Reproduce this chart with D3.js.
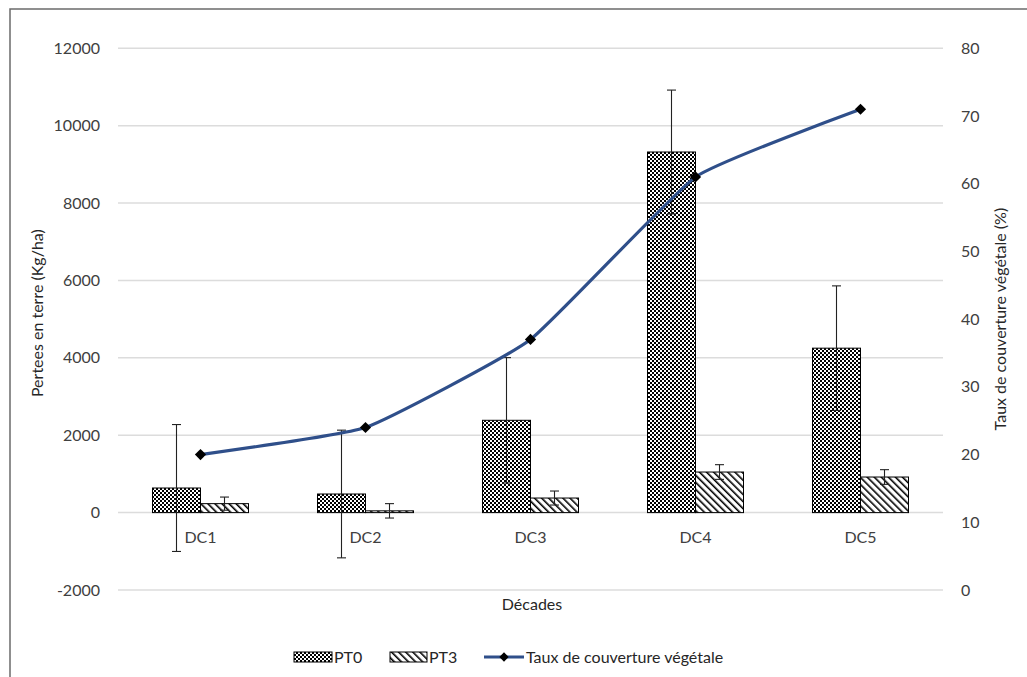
<!DOCTYPE html>
<html>
<head>
<meta charset="utf-8">
<script src="https://cdn.jsdelivr.net/npm/d3@7"></script>
<style>
  html, body { margin: 0; padding: 0; background: #fff; }
  svg { display: block; }
  text { font-family: Lato, "Open Sans", sans-serif; }
</style>
</head>
<body>
<script>
// Soil losses per decade (PT0, PT3) with standard errors, and vegetation cover rate
const categories = ["DC1", "DC2", "DC3", "DC4", "DC5"];
const pt0 = [636, 481, 2386, 9320, 4250];
const pt0Err = [1640, 1650, 1620, 1600, 1610];
const pt3 = [232, 46, 377, 1049, 920];
const pt3Err = [170, 186, 181, 190, 190];
const cover = [20, 24, 37, 61, 71];
const leftTicks = [-2000, 0, 2000, 4000, 6000, 8000, 10000, 12000];
const rightTicks = [0, 10, 20, 30, 40, 50, 60, 70, 80];
const seriesNames = ["PT0", "PT3", "Taux de couverture végétale"];

const W = 1027, H = 677;
const plot = { left: 118, right: 943, top: 48.3, bottom: 590 };

const svg = d3.select("body").append("svg").attr("width", W).attr("height", H);
const defs = svg.append("defs");

// checker fill for PT0
const pChk = defs.append("pattern").attr("id", "chk")
  .attr("patternUnits", "userSpaceOnUse").attr("width", 4).attr("height", 4);
pChk.append("rect").attr("width", 4).attr("height", 4).attr("fill", "#fff");
pChk.append("rect").attr("width", 2).attr("height", 2).attr("fill", "#000");
pChk.append("rect").attr("x", 2).attr("y", 2).attr("width", 2).attr("height", 2).attr("fill", "#000");

// diagonal hatch for PT3 (falling from top-left to bottom-right)
const pHatch = defs.append("pattern").attr("id", "hatch")
  .attr("patternUnits", "userSpaceOnUse").attr("width", 5).attr("height", 5)
  .attr("patternTransform", "rotate(-45)");
pHatch.append("rect").attr("width", 5).attr("height", 5).attr("fill", "#fff");
pHatch.append("line").attr("x1", 0).attr("y1", 0).attr("x2", 0).attr("y2", 5)
  .attr("stroke", "#000").attr("stroke-width", 3.2);

// frame
svg.append("rect").attr("x", 10).attr("y", 9).attr("width", W + 20).attr("height", H + 20)
  .attr("fill", "none").attr("stroke", "#6b6b6b").attr("stroke-width", 1.5);

const y = d3.scaleLinear().domain([-2000, 12000]).range([plot.bottom, plot.top]);
const y2 = d3.scaleLinear().domain([0, 80]).range([plot.bottom, plot.top]);
const x = d3.scaleBand().domain(categories).range([plot.left, plot.right])
  .paddingInner(69 / 165).paddingOuter(69 / 330);
const xs = d3.scaleBand().domain(["PT0", "PT3"]).range([0, x.bandwidth()]);

// gridlines
svg.append("g").selectAll("line").data(leftTicks).join("line")
  .attr("x1", plot.left).attr("x2", plot.right)
  .attr("y1", d => y(d)).attr("y2", d => y(d))
  .attr("stroke", "#dcdcdc").attr("stroke-width", 1.5);

// left axis
const gL = svg.append("g").attr("transform", `translate(${plot.left - 18},0)`)
  .call(d3.axisLeft(y).tickValues(leftTicks).tickSize(0).tickPadding(0).tickFormat(d => String(d)));
gL.select(".domain").remove();
gL.selectAll("text").attr("font-size", 16).attr("fill", "#404040").attr("font-family", "Lato, sans-serif");

// right axis
const gR = svg.append("g").attr("transform", `translate(${plot.right + 18},0)`)
  .call(d3.axisRight(y2).tickValues(rightTicks).tickSize(0).tickPadding(0));
gR.select(".domain").remove();
gR.selectAll("text").attr("font-size", 16).attr("fill", "#404040").attr("font-family", "Lato, sans-serif");

// bars
const bars = [
  { key: "PT0", vals: pt0, err: pt0Err, fill: "url(#chk)" },
  { key: "PT3", vals: pt3, err: pt3Err, fill: "url(#hatch)" }
];
bars.forEach(s => {
  const g = svg.append("g");
  g.selectAll("rect").data(categories).join("rect")
    .attr("x", c => x(c) + xs(s.key))
    .attr("width", xs.bandwidth())
    .attr("y", (c, i) => y(Math.max(0, s.vals[i])))
    .attr("height", (c, i) => Math.abs(y(s.vals[i]) - y(0)))
    .attr("fill", s.fill).attr("stroke", "#000").attr("stroke-width", 1);
});

// category labels
svg.append("g").selectAll("text").data(categories).join("text")
  .attr("x", c => x(c) + x.bandwidth() / 2).attr("y", y(0) + 30)
  .attr("text-anchor", "middle").attr("font-size", 16).attr("fill", "#404040")
  .text(c => c);

// error bars
bars.forEach(s => {
  const g = svg.append("g").attr("stroke", "#222").attr("stroke-width", 1.1);
  categories.forEach((c, i) => {
    const cx = x(c) + xs(s.key) + xs.bandwidth() / 2;
    const hi = y(s.vals[i] + s.err[i]), lo = y(s.vals[i] - s.err[i]);
    g.append("line").attr("x1", cx).attr("x2", cx).attr("y1", hi).attr("y2", lo);
    g.append("line").attr("x1", cx - 4.5).attr("x2", cx + 4.5).attr("y1", hi).attr("y2", hi);
    g.append("line").attr("x1", cx - 4.5).attr("x2", cx + 4.5).attr("y1", lo).attr("y2", lo);
  });
});

// vegetation cover line
const pts = categories.map((c, i) => [x(c) + x.bandwidth() / 2, y2(cover[i])]);
svg.append("path").attr("d", d3.line().curve(d3.curveCardinal.tension(0.6))(pts))
  .attr("fill", "none").attr("stroke", "#2f4f8a").attr("stroke-width", 3.2);
const diamond = d3.symbol().type(d3.symbolDiamond2);
svg.append("g").selectAll("path").data(pts).join("path")
  .attr("transform", d => `translate(${d[0]},${d[1]})`)
  .attr("d", diamond.size(80)()).attr("fill", "#000");

// axis titles
svg.append("text").attr("transform", `translate(43,${(plot.top + plot.bottom) / 2 - 6}) rotate(-90)`)
  .attr("text-anchor", "middle").attr("font-size", 16).attr("fill", "#262626")
  .text("Pertees en terre (Kg/ha)");
svg.append("text").attr("transform", `translate(1006,${(plot.top + plot.bottom) / 2}) rotate(-90)`)
  .attr("text-anchor", "middle").attr("font-size", 16).attr("fill", "#262626")
  .text("Taux de couverture végétale (%)");
svg.append("text").attr("x", 532).attr("y", 610)
  .attr("text-anchor", "middle").attr("font-size", 16).attr("fill", "#262626")
  .text("Décades");

// legend
const lg = svg.append("g");
const ly = 657;
lg.append("rect").attr("x", 294).attr("y", ly - 5).attr("width", 38).attr("height", 10)
  .attr("fill", "url(#chk)").attr("stroke", "#000");
lg.append("text").attr("x", 334).attr("y", ly + 6).attr("font-size", 16).attr("fill", "#262626").text(seriesNames[0]);
lg.append("rect").attr("x", 390).attr("y", ly - 5).attr("width", 37).attr("height", 10)
  .attr("fill", "url(#hatch)").attr("stroke", "#000");
lg.append("text").attr("x", 429).attr("y", ly + 6).attr("font-size", 16).attr("fill", "#262626").text(seriesNames[1]);
lg.append("line").attr("x1", 484).attr("x2", 524).attr("y1", ly).attr("y2", ly)
  .attr("stroke", "#2f4f8a").attr("stroke-width", 3.2);
lg.append("path").attr("transform", `translate(504,${ly})`).attr("d", diamond.size(55)()).attr("fill", "#000");
lg.append("text").attr("x", 526).attr("y", ly + 6).attr("font-size", 16).attr("fill", "#262626").text(seriesNames[2]);
</script>
</body>
</html>
